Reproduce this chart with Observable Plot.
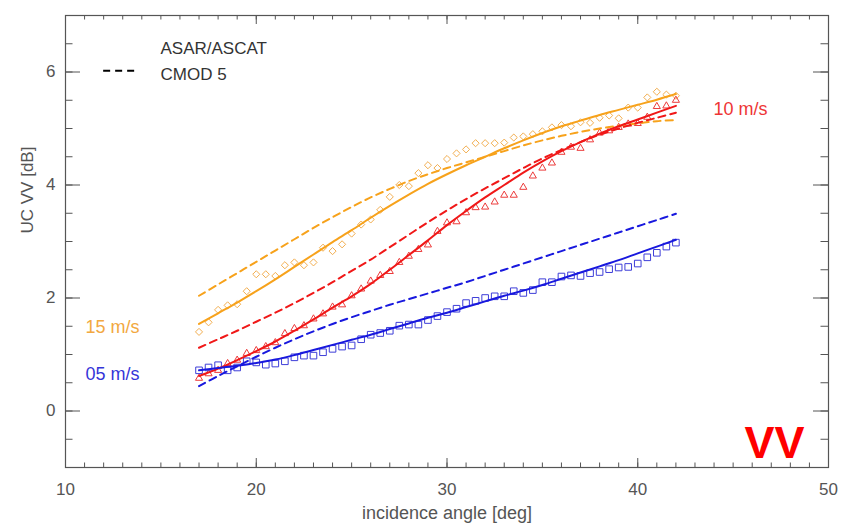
<!DOCTYPE html>
<html><head><meta charset="utf-8">
<script src="https://cdn.jsdelivr.net/npm/d3@7"></script>
<script src="https://cdn.jsdelivr.net/npm/@observablehq/plot@0.6"></script>
<style>body{margin:0;background:#fff;} #chart{width:841px;height:529px;}</style>
</head><body><div id="chart"></div>
<script>
// ---- tick labels ----
const xTickLabels = [10, 20, 30, 40, 50];
const yTickLabels = [0, 2, 4, 6];

// ---- fitted curves (1 deg steps) ----
const fitAngles = [17,18,19,20,21,22,23,24,25,26,27,28,29,30,31,32,33,34,35,36,37,38,39,40,41,42];
const asar15 = [1.54,1.73,1.92,2.12,2.33,2.55,2.77,2.99,3.20,3.42,3.63,3.83,4.02,4.19,4.35,4.50,4.65,4.79,4.92,5.04,5.14,5.24,5.33,5.42,5.51,5.61];
const cmod15 = [2.04,2.24,2.44,2.64,2.84,3.04,3.24,3.43,3.61,3.78,3.93,4.07,4.19,4.30,4.40,4.50,4.60,4.70,4.79,4.87,4.94,5.00,5.05,5.09,5.13,5.15];
const asar10 = [0.62,0.75,0.90,1.06,1.23,1.42,1.62,1.83,2.03,2.25,2.50,2.76,3.02,3.29,3.54,3.78,4.00,4.22,4.42,4.60,4.76,4.91,5.04,5.16,5.28,5.40];
const cmod10 = [1.12,1.27,1.42,1.58,1.74,1.91,2.09,2.28,2.48,2.68,2.90,3.12,3.34,3.55,3.75,3.94,4.12,4.30,4.47,4.62,4.76,4.89,5.00,5.10,5.19,5.28];
const asar05 = [0.72,0.76,0.80,0.85,0.91,0.99,1.08,1.17,1.26,1.35,1.45,1.55,1.65,1.74,1.84,1.94,2.04,2.13,2.23,2.34,2.45,2.56,2.67,2.79,2.91,3.03];
const cmod05 = [0.44,0.62,0.79,0.96,1.12,1.27,1.41,1.54,1.66,1.77,1.88,1.98,2.08,2.18,2.28,2.39,2.50,2.61,2.72,2.83,2.94,3.05,3.16,3.27,3.38,3.49];

// ---- observations (0.5 deg steps) ----
const obsAngles = [17,17.5,18,18.5,19,19.5,20,20.5,21,21.5,22,22.5,23,23.5,24,24.5,25,25.5,26,26.5,27,27.5,28,28.5,29,29.5,30,30.5,31,31.5,32,32.5,33,33.5,34,34.5,35,35.5,36,36.5,37,37.5,38,38.5,39,39.5,40,40.5,41,41.5,42];
const obs15 = [1.40,1.57,1.79,1.87,1.89,2.12,2.42,2.42,2.39,2.58,2.63,2.58,2.63,2.89,2.83,2.95,3.14,3.30,3.39,3.56,3.79,4.00,3.98,4.21,4.35,4.30,4.46,4.56,4.63,4.74,4.74,4.74,4.75,4.84,4.86,4.90,4.95,5.02,5.06,5.04,5.11,5.10,5.19,5.23,5.18,5.37,5.37,5.55,5.65,5.60,5.58];
const obs10 = [0.58,0.66,0.72,0.84,0.90,1.02,1.07,1.14,1.21,1.37,1.46,1.51,1.63,1.72,1.84,1.88,2.04,2.16,2.30,2.40,2.47,2.63,2.74,2.86,2.94,3.18,3.33,3.35,3.51,3.60,3.61,3.70,3.82,3.82,3.96,4.16,4.30,4.39,4.58,4.67,4.65,4.80,4.92,4.96,5.02,5.08,5.09,5.20,5.39,5.40,5.50];
const obs05 = [0.72,0.77,0.81,0.72,0.77,0.88,0.86,0.82,0.84,0.88,0.95,0.98,0.98,1.04,1.10,1.14,1.16,1.27,1.35,1.38,1.42,1.51,1.53,1.53,1.61,1.68,1.75,1.81,1.91,1.95,2.00,2.03,2.03,2.12,2.09,2.14,2.28,2.28,2.38,2.40,2.39,2.44,2.46,2.51,2.54,2.55,2.61,2.72,2.80,2.91,2.98];

const speedLabels = ["05 m/s", "10 m/s", "15 m/s"];
const legendLabels = ["ASAR/ASCAT", "CMOD 5"];

const C = {o: "#F7A21B", oM: "#F2AE50", r: "#F01818", rM: "#EC3B3B", b: "#1818DE", bM: "#3E3ED8"};

const fit = (ys) => fitAngles.map((a, i) => ({x: a, y: ys[i]}));
const obs = (ys) => obsAngles.map((a, i) => ({x: a, y: ys[i]}));

const W = 841, H = 529, mL = 65, mR = 13, mT = 15, mB = 62;
const pw = W - mL - mR, ph = H - mT - mB;
const xMinor = d3.range(10, 50.01, 1), xMajor = d3.range(10, 50.01, 10);
const yMinor = d3.range(-1, 7.01, 0.5), yMajor = d3.range(0, 6.01, 2);
const axisCol = "#555";
const font = "Liberation Sans, Arial, sans-serif";

const lineOpts = {x: "x", y: "y", strokeWidth: 2, curve: "catmull-rom"};
const plot = Plot.plot({
  width: W, height: H,
  marginLeft: mL, marginRight: mR, marginTop: mT, marginBottom: mB,
  style: {fontFamily: font, background: "#fff"},
  x: {domain: [10, 50]},
  y: {domain: [-1, 7]},
  marks: [
    // ticks (inward)
    Plot.tickX(xMinor, {x: d => d, insetTop: ph - 4.5, stroke: axisCol}),
    Plot.tickX(xMajor, {x: d => d, insetTop: ph - 9, stroke: axisCol}),
    Plot.tickX(xMinor, {x: d => d, insetBottom: ph - 4.5, stroke: axisCol}),
    Plot.tickX(xMajor, {x: d => d, insetBottom: ph - 9, stroke: axisCol}),
    Plot.tickY(yMinor, {y: d => d, insetRight: pw - 7.5, stroke: axisCol}),
    Plot.tickY(yMajor, {y: d => d, insetRight: pw - 15, stroke: axisCol}),
    Plot.tickY(yMinor, {y: d => d, insetLeft: pw - 7.5, stroke: axisCol}),
    Plot.tickY(yMajor, {y: d => d, insetLeft: pw - 15, stroke: axisCol}),
    Plot.axisX(xTickLabels, {tickSize: 0, tickPadding: 15, fontSize: 17, fill: axisCol, label: null, tickFormat: d => d}),
    Plot.axisY(yTickLabels, {tickSize: 0, tickPadding: 10, fontSize: 17, fill: axisCol, label: null, tickFormat: d => d}),
    Plot.frame({stroke: axisCol, strokeWidth: 1.2}),
    // observations
    Plot.dot(obs(obs15), {x: "x", y: "y", symbol: "diamond2", r: 3.2, stroke: C.oM, strokeWidth: 1}),
    Plot.dot(obs(obs10), {x: "x", y: "y", symbol: "triangle2", r: 3.4, stroke: C.rM, strokeWidth: 1}),
    Plot.dot(obs(obs05), {x: "x", y: "y", symbol: "square2", r: 4.2, stroke: C.bM, strokeWidth: 1}),
    // fits
    Plot.line(fit(cmod15), {...lineOpts, stroke: C.o, strokeDasharray: "7,5"}),
    Plot.line(fit(cmod10), {...lineOpts, stroke: C.r, strokeDasharray: "7,5"}),
    Plot.line(fit(cmod05), {...lineOpts, stroke: C.b, strokeDasharray: "7,5"}),
    Plot.line(fit(asar15), {...lineOpts, stroke: C.o}),
    Plot.line(fit(asar10), {...lineOpts, stroke: C.r}),
    Plot.line(fit(asar05), {...lineOpts, stroke: C.b}),
    // legend
    Plot.text([legendLabels[0]], {frameAnchor: "top-left", dx: 95, dy: 26, textAnchor: "start", fontSize: 17, fill: "#333", letterSpacing: 0.5}),
    Plot.text([legendLabels[1]], {frameAnchor: "top-left", dx: 95, dy: 52, textAnchor: "start", fontSize: 17, fill: "#333", letterSpacing: 0.5}),
    Plot.ruleY([6.02], {x1: 12.0, x2: 13.7, stroke: "#000", strokeWidth: 2, strokeDasharray: "7,5"}),
    // speed labels
    Plot.text([speedLabels[2]], {frameAnchor: "top-left", dx: 20, dy: 305, textAnchor: "start", fontSize: 18, fill: "#F2A840", letterSpacing: 2}),
    Plot.text([speedLabels[0]], {frameAnchor: "top-left", dx: 20, dy: 352, textAnchor: "start", fontSize: 18, fill: "#3535D8", letterSpacing: 2}),
    Plot.text([speedLabels[1]], {frameAnchor: "top-left", dx: 648, dy: 87, textAnchor: "start", fontSize: 18, fill: "#EE3535", letterSpacing: 2}),
    Plot.text(["VV"], {frameAnchor: "top-left", dx: 709, dy: 411, textAnchor: "middle", fontSize: 45, fontWeight: "bold", fill: "#FF0000"}),
    // axis titles
    Plot.text(["UC VV [dB]"], {frameAnchor: "left", dx: -38, dy: -8, rotate: -90, fontSize: 17, fill: axisCol, letterSpacing: 1}),
    Plot.text(["incidence angle [deg]"], {frameAnchor: "bottom", dy: 51, fontSize: 18, fill: axisCol, letterSpacing: 1})
  ]
});
document.getElementById("chart").appendChild(plot);
</script>
</body></html>
